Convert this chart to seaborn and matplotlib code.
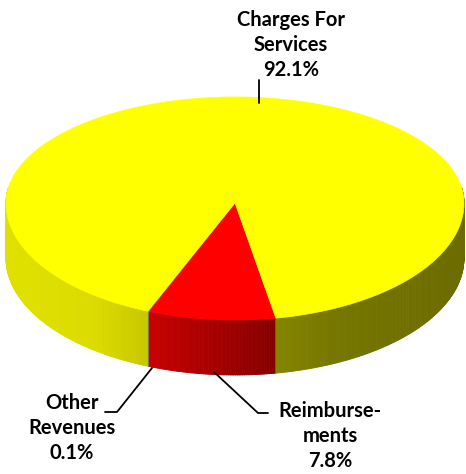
import numpy as np
import matplotlib
matplotlib.use("Agg")
import matplotlib.pyplot as plt
from matplotlib.collections import PolyCollection
from matplotlib.patches import Polygon
import seaborn as sns

# slice data (percent), in drawing order going round from the front-left
labels = ["Other\nRevenues", "Reimburse-\nments", "Charges For\nServices"]
values = [0.1, 7.8, 92.1]
top_colors = ["#8080a0", "#ff0000", "#ffff00"]

sns.set_theme(style="white")
plt.rcParams['font.family'] = ['Lato', 'DejaVu Sans']

fig = plt.figure(figsize=(4.66, 4.74), dpi=100)
ax = fig.add_axes([0, 0, 1, 1])
ax.set_xlim(0, 466)
ax.set_ylim(474, 0)
ax.axis("off")

# pie geometry (pixel space, y downwards)
cx, cy = 235, 203
a, b_front, b_back = 229, 117, 106
depth = 55
start = -19.5
persp = 0.15  # front slices look a bit wider than back ones


def rim(theta_deg):
    t = np.radians(theta_deg)
    t = t + persp * np.sin(t)
    b = np.where(np.cos(t) > 0, b_front, b_back)
    return cx + a * np.sin(t), cy + b * np.cos(t)


def shade(x):
    s = (x - cx) / a
    return np.interp(s, [-1, -0.6, -0.38, -0.1, 0.18, 0.45, 1.0],
                     [0.88, 0.86, 0.78, 0.66, 0.52, 0.46, 0.42])


bounds = start + 360 * np.concatenate([[0], np.cumsum(values)]) / 100.0

# side wall (only the front half is visible)
polys, cols = [], []
for i in range(len(values)):
    t0, t1 = bounds[i], bounds[i + 1]
    rgb = np.array(matplotlib.colors.to_rgb(top_colors[i]))
    for lo, hi in [(t0, t1), (t0 - 360, t1 - 360)]:
        lo2, hi2 = max(lo, -90), min(hi, 90)
        if hi2 <= lo2:
            continue
        th = np.linspace(lo2, hi2, max(2, int((hi2 - lo2) * 2) + 2))
        xs, ys = rim(th)
        for k in range(len(th) - 1):
            polys.append([(xs[k], ys[k]), (xs[k + 1], ys[k + 1]),
                          (xs[k + 1], ys[k + 1] + depth), (xs[k], ys[k] + depth)])
            cols.append(rgb * shade((xs[k] + xs[k + 1]) / 2))
ax.add_collection(PolyCollection(polys, facecolors=cols, edgecolors=cols, linewidths=0.6))

# top surface
for i in range(len(values)):
    th = np.linspace(bounds[i], bounds[i + 1], max(3, int(values[i] * 3.6 * 2)))
    xs, ys = rim(th)
    pts = [(cx, cy)] + list(zip(xs, ys))
    ax.add_patch(Polygon(pts, closed=True, facecolor=top_colors[i],
                         edgecolor=top_colors[i], linewidth=0.5))

# labels with leader lines
pcts = ["{:.1f}%".format(v) for v in values]
txt = dict(fontsize=14.5, fontweight="bold", ha="center", va="center",
           linespacing=1.32, color="black")
ax.text(72, 428, labels[0] + "\n" + pcts[0], **txt)
ax.plot([105, 117, 152], [412, 412, 368], color="black", lw=1.3)
ax.text(330, 436, labels[1] + "\n" + pcts[1], **txt)
ax.plot([214, 258, 268], [372, 413, 413], color="black", lw=1.3)
ax.text(291, 45, labels[2] + "\n" + pcts[2], **txt)
ax.plot([259, 259], [80, 103], color="black", lw=1.3)

fig.savefig("out.png", dpi=100)
